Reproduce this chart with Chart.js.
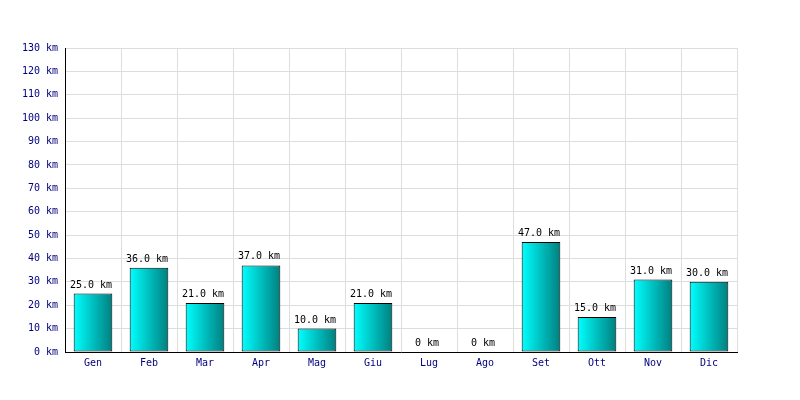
<!DOCTYPE html>
<html>
<head>
<meta charset="utf-8">
<script src="https://cdn.jsdelivr.net/npm/chart.js@4"></script>
<style>
html,body{margin:0;padding:0;background:#fff;}
#wrap{width:800px;height:400px;}
</style>
</head>
<body>
<div id="wrap"><canvas id="c" width="800" height="400"></canvas></div>
<script>
const months = ['Gen','Feb','Mar','Apr','Mag','Giu','Lug','Ago','Set','Ott','Nov','Dic'];
const distances = [25,36,21,37,10,21,0,0,47,15,31,30];
const unit = 'km';
const yMax = 130;
const yStep = 10;

const FONT = '"DejaVu Sans Mono", monospace';

function fmt(v){ return v === 0 ? '0 ' + unit : v.toFixed(1) + ' ' + unit; }

const valueLabels = {
  id: 'valueLabels',
  afterDatasetsDraw(chart){
    const ctx = chart.ctx;
    const meta = chart.getDatasetMeta(0);
    ctx.save();
    ctx.font = '10px ' + FONT;
    ctx.fillStyle = '#000';
    ctx.textAlign = 'center';
    ctx.textBaseline = 'alphabetic';
    meta.data.forEach((bar, i) => {
      ctx.fillText(fmt(distances[i]), bar.x - 2, bar.y - 6);
    });
    ctx.restore();
  }
};

function barGradient(context){
  const chart = context.chart;
  const xs = chart.scales.x;
  if (!xs || !chart.chartArea) return '#00cccc';
  const cx = xs.getPixelForValue(context.dataIndex);
  const w = (xs.width / months.length) * 0.69;
  const g = chart.ctx.createLinearGradient(cx - w/2, 0, cx + w/2, 0);
  g.addColorStop(0, '#00ffff');
  g.addColorStop(1, '#007f7f');
  return g;
}

new Chart(document.getElementById('c'), {
  type: 'bar',
  data: {
    labels: months,
    datasets: [{
      data: distances,
      backgroundColor: barGradient,
      borderColor: '#000',
      borderWidth: 1,
      borderSkipped: false,
      categoryPercentage: 1,
      barPercentage: 0.69
    }]
  },
  options: {
    responsive: false,
    animation: false,
    devicePixelRatio: 1,
    layout: { padding: { left: 0, right: 63, top: 48, bottom: 0 } },
    plugins: { legend: { display: false }, tooltip: { enabled: false } },
    scales: {
      x: {
        grid: { color: '#dddddd', drawTicks: false, offset: true },
        border: { color: '#000', width: 1 },
        ticks: { color: '#000080', font: { family: FONT, size: 10 }, padding: 5 },
        afterFit(s){ s.height = 48; }
      },
      y: {
        min: 0, max: yMax,
        grid: { color: '#dddddd', drawTicks: false },
        border: { color: '#000', width: 1 },
        ticks: {
          stepSize: yStep,
          color: '#000080',
          font: { family: FONT, size: 10 },
          padding: 7,
          callback: v => v + ' ' + unit
        },
        afterFit(s){ s.width = 65; }
      }
    }
  },
  plugins: [valueLabels]
});
</script>
</body>
</html>
